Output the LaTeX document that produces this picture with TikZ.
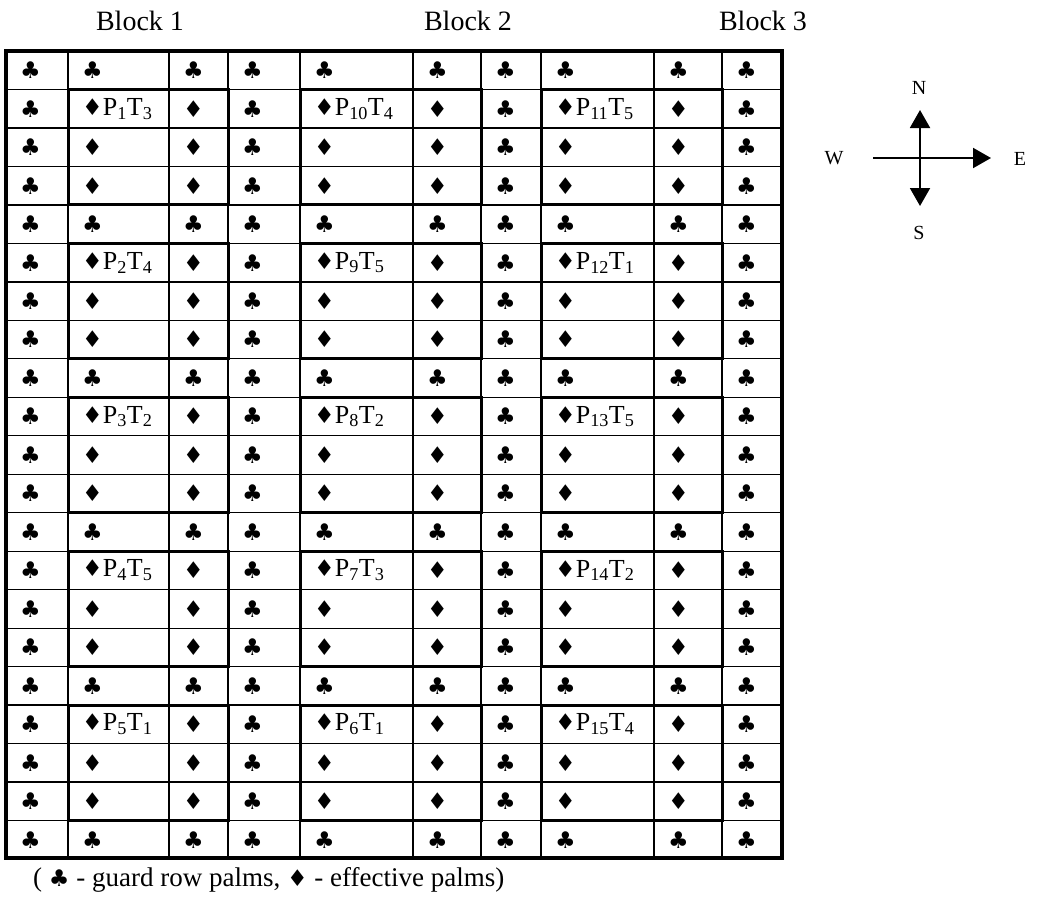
\documentclass[tikz,border=0pt]{standalone}
\usepackage{fontspec}
\setmainfont{Liberation Serif}
\newfontfamily\symf{DejaVu Sans}
\usetikzlibrary{arrows.meta}
\newcommand\clb{{\symf\fontsize{23}{23}\selectfont ♣}}
\newcommand\dmd{{\symf\fontsize{23}{23}\selectfont ♦}}
\def\colx{{6,68,169,228,300,413,481,541,654,722,782}}
\def\rh{38.476}
\tikzset{
  gridline/.style={line width=1.3pt, black},
  plotbox/.style={line width=3pt, black},
  outerbox/.style={line width=4pt, black},
  celltext/.style={anchor=west, inner sep=0pt, font=\fontsize{26}{28}\selectfont},
  blocklabel/.style={inner sep=0pt, font=\fontsize{28}{30}\selectfont},
  dirlabel/.style={inner sep=0pt, font=\fontsize{20}{22}\selectfont},
  comparrow/.style={line width=2pt, -{Triangle[width=20pt,length=18pt]}},
  legendtext/.style={anchor=west, inner sep=0pt, font=\fontsize{27}{29}\selectfont}
}
\begin{document}
\begin{tikzpicture}[x=1pt,y=-1pt]
\useasboundingbox (0,0) rectangle (1040,898);
% block labels
\node[blocklabel] (blk1) at (140,21) {Block 1};
\node[blocklabel] (blk2) at (468,21) {Block 2};
\node[blocklabel] (blk3) at (763,21) {Block 3};
% thin grid
\foreach \i in {1,...,9} {
  \pgfmathsetmacro\xx{\colx[\i]}
  \draw[gridline] (\xx,51) -- (\xx,858);
}
\foreach \r in {1,...,20} {
  \draw[gridline] (6,{51+\r*\rh}) -- (782,{51+\r*\rh});
}
% cell symbols
\foreach \r in {1,...,21} {
  \foreach \c in {1,...,10} {
    \pgfmathtruncatemacro\guard{or(mod(\r-1,4)==0, or(\c==1, or(\c==4, or(\c==7,\c==10))))}
    \pgfmathtruncatemacro\lab{and(mod(\r-2,4)==0, or(\c==2, or(\c==5,\c==8)))}
    \pgfmathsetmacro\xl{\colx[\c-1]+14}
    \pgfmathsetmacro\yc{51+(\r-0.5)*\rh}
    \ifnum\lab=0
      \ifnum\guard=1
        \node[celltext] (cell-\r-\c) at (\xl,\yc) {\clb};
      \else
        \node[celltext] (cell-\r-\c) at (\xl,\yc) {\dmd};
      \fi
    \fi
  }
}
% plot labels
\foreach \g/\pa/\ta/\pb/\tb/\pc/\tc in {0/1/3/10/4/11/5, 1/2/4/9/5/12/1, 2/3/2/8/2/13/5, 3/4/5/7/3/14/2, 4/5/1/6/1/15/4} {
  \pgfmathsetmacro\yc{51+(1.5+4*\g)*\rh}
  \node[celltext] (lab-\pa) at (82,\yc) {\dmd P\textsubscript{\pa}T\textsubscript{\ta}};
  \node[celltext] (lab-\pb) at (314,\yc) {\dmd P\textsubscript{\pb}T\textsubscript{\tb}};
  \node[celltext] (lab-\pc) at (555,\yc) {\dmd P\textsubscript{\pc}T\textsubscript{\tc}};
}
% thick plot boxes
\foreach \g in {0,...,4} {
  \pgfmathsetmacro\yt{51+(1+4*\g)*\rh}
  \pgfmathsetmacro\yb{51+(4+4*\g)*\rh}
  \draw[plotbox] (68,\yt) rectangle (228,\yb);
  \draw[plotbox] (300,\yt) rectangle (481,\yb);
  \draw[plotbox] (541,\yt) rectangle (722,\yb);
}
% outer border
\draw[outerbox] (6,51) rectangle (782,858);
% compass
\coordinate (cc) at (920,158);
\coordinate (ntip) at (920,110);
\coordinate (stip) at (920,206);
\coordinate (wend) at (873,158);
\coordinate (etip) at (991,158);
\draw[line width=2pt] (wend) -- (cc);
\draw[comparrow] (cc) -- (etip);
\draw[comparrow] (cc) -- (ntip);
\draw[comparrow] (cc) -- (stip);
\node[dirlabel] (lblN) at (919,88) {N};
\node[dirlabel] (lblS) at (919,233) {S};
\node[dirlabel] (lblW) at (834,158) {W};
\node[dirlabel] (lblE) at (1020,159) {E};
% legend
\node[legendtext] (legend) at (33,880) {( \clb{} - guard row palms, \dmd{} - effective palms)};
\end{tikzpicture}
\end{document}
